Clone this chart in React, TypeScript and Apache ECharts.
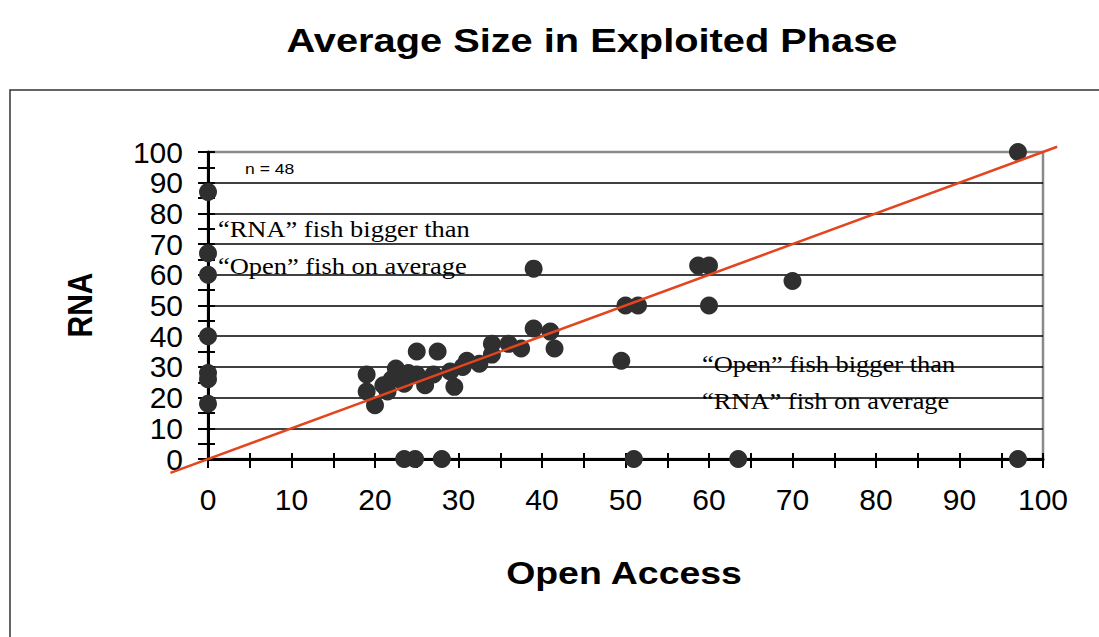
import React, { useEffect, useRef } from "react";
import * as echarts from "echarts";

// Scatter data: Open Access (x) vs RNA (y), n = 48
const openAccess = [
  0, 0, 0, 0, 0, 0, 0,
  23.5, 24.8, 28, 51, 63.5, 97,
  97,
  58.7, 60, 60, 70, 50, 51.5, 49.5,
  39,
  39, 41, 41.5, 34, 36, 37.5, 32.5, 34, 30.5,
  25, 27.5, 19, 19, 20, 22, 22.5, 21.5, 23.5, 26, 25, 27, 29, 29.5,
  31, 24, 21,
];
const rna = [
  87, 67, 60, 40, 28, 26, 18,
  0, 0, 0, 0, 0, 0,
  100,
  63, 63, 50, 58, 50, 50, 32,
  62,
  42.5, 41.5, 36, 37.5, 37.5, 36, 31, 34, 30,
  35, 35, 27.5, 22, 17.5, 26, 29.5, 22, 24.5, 24, 27.5, 27.5, 28.5, 23.5,
  32, 28, 24,
];

// 1:1 reference line (extends slightly past the axes)
const refLineX = [-4.5, 101.7];
const refLineY = [-4.5, 101.7];

const axisMin = 0;
const axisMax = 100;
const axisInterval = 10;

const titleText = "Average Size in Exploited Phase";
const xName = "Open Access";
const yName = "RNA";
const nText = "n = 48";
const noteUpper = ["\u201CRNA\u201D fish bigger than", "\u201COpen\u201D fish on average"];
const noteLower = ["\u201COpen\u201D fish bigger than", "\u201CRNA\u201D fish on average"];

const SANS = "'Liberation Sans', Arial, Helvetica, sans-serif";
const SERIF = "'Liberation Serif', 'Times New Roman', Times, serif";

export default function App() {
  const ref = useRef<HTMLDivElement>(null);

  useEffect(() => {
    if (!ref.current) return;
    const chart = echarts.init(ref.current, undefined, { renderer: "svg" });

    const tickStyle = { color: "#000", width: 2 };
    const baseAxis = (inside: boolean, len: number, main: boolean) => ({
      type: "value" as const,
      min: axisMin,
      max: axisMax,
      interval: axisInterval,
      axisLine: { show: main, onZero: false, lineStyle: { color: "#000", width: 3 } },
      axisTick: { show: true, inside, length: len, lineStyle: tickStyle },
      minorTick: { show: true, splitNumber: 2, length: len, lineStyle: tickStyle },
      axisLabel: {
        show: main,
        fontSize: 30,
        color: "#000",
        fontFamily: SANS,
        margin: 25,
      },
    });

    const points = openAccess.map((x, i) => [x, rna[i]]);

    const textEl = (
      id: string,
      text: string,
      x: number,
      y: number,
      size: number,
      family: string,
      weight: string,
      align: string,
      scaleX = 1,
      scaleY = 1,
      rotation = 0
    ) => ({
      id,
      type: "text",
      x,
      y,
      scaleX,
      scaleY,
      rotation,
      z: 10,
      style: {
        text,
        fontSize: size,
        fontFamily: family,
        fontWeight: weight,
        fill: "#000",
        align,
        verticalAlign: "middle",
      },
    });

    const baseGraphic = [
      {
        id: "frame",
        type: "rect",
        shape: { x: 10, y: 90, width: 1200, height: 700 },
        style: { fill: "none", stroke: "#333", lineWidth: 1.5 },
        z: -1,
      },
      textEl("title", titleText, 592, 41, 34, SANS, "bold", "center", 1.17),
      textEl("xname", xName, 624, 573, 32, SANS, "bold", "center", 1.17),
      textEl("yname", yName, 80, 305, 30, SANS, "bold", "center", 1, 1.17, Math.PI / 2),
      textEl("n", nText, 245, 168, 15, SANS, "normal", "left", 1.17),
      textEl("u1", noteUpper[0], 218, 229, 23, SERIF, "normal", "left", 1.15),
      textEl("u2", noteUpper[1], 218, 266, 23, SERIF, "normal", "left", 1.15),
      textEl("l1", noteLower[0], 702, 364, 23, SERIF, "normal", "left", 1.15),
      textEl("l2", noteLower[1], 702, 401, 23, SERIF, "normal", "left", 1.15),
    ];

    chart.setOption({
      animation: false,
      backgroundColor: "#fff",
      grid: {
        left: 208,
        right: 56,
        top: 152,
        bottom: 178,
        show: true,
        borderColor: "#8a8a8a",
        borderWidth: 2.5,
        backgroundColor: "transparent",
      },
      xAxis: [
        { ...baseAxis(false, 9, true), position: "bottom", splitLine: { show: false } },
        { ...baseAxis(true, 6, false), position: "bottom", splitLine: { show: false } },
      ],
      yAxis: [
        {
          ...baseAxis(false, 10, true),
          position: "left",
          splitLine: {
            show: true,
            showMinLine: false,
            showMaxLine: false,
            lineStyle: { color: "#000", width: 1.5 },
          },
        },
        { ...baseAxis(true, 7, false), position: "left", splitLine: { show: false } },
      ],
      series: [
        {
          type: "scatter",
          xAxisIndex: 0,
          yAxisIndex: 0,
          data: points,
          symbol: "circle",
          symbolSize: 18,
          itemStyle: { color: "#2f2f2f", opacity: 1 },
          clip: false,
          z: 2,
        },
      ],
      graphic: baseGraphic,
    });

    // Reference line, positioned through the chart's own axis scales
    const linePts = refLineX.map((x, i) =>
      chart.convertToPixel({ xAxisIndex: 0, yAxisIndex: 0 }, [x, refLineY[i]]) as number[]
    );
    chart.setOption({
      graphic: [
        ...baseGraphic,
        {
          id: "refline",
          type: "polyline",
          shape: { points: linePts },
          style: { stroke: "#E3451F", lineWidth: 2.5, fill: "none" },
          z: 100,
        },
      ],
    });

    return () => chart.dispose();
  }, []);

  return (
    <div
      ref={ref}
      style={{ position: "fixed", left: 0, top: 0, width: 1099, height: 637, background: "#fff" }}
    />
  );
}
